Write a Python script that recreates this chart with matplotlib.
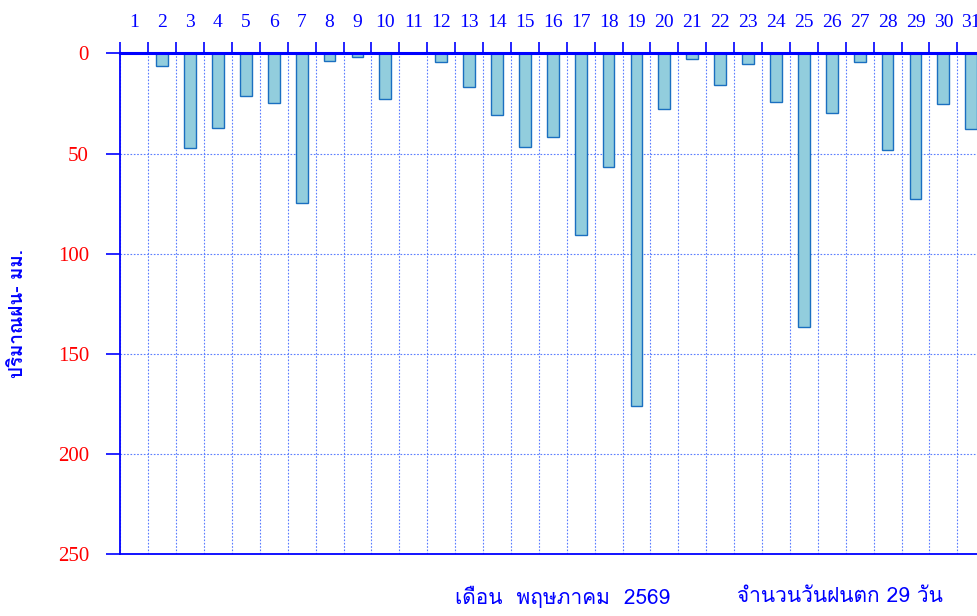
import matplotlib
matplotlib.use("Agg")
import matplotlib.pyplot as plt
from matplotlib import font_manager
from matplotlib.ft2font import FT2Font
from matplotlib.ticker import FixedLocator, NullFormatter, FixedFormatter

# ---- data ----
days = list(range(1, 32))
rain_mm = [0, 6.2, 47.3, 37.3, 21.3, 24.9, 74.5, 3.8, 1.8, 22.8,
           0, 4.2, 16.7, 30.8, 46.6, 41.6, 90.8, 56.6, 176.2, 27.6,
           2.8, 15.8, 5.2, 24.1, 136.7, 29.9, 4.5, 48.4, 72.9, 25.3, 37.8]
day_labels = [str(d) for d in days]
y_ticks = [0, 50, 100, 150, 200, 250]
ylabel_text = "ปริมาณฝน- มม."
month_text = "เดือน  พฤษภาคม  2569"
count_text = "จำนวนวันฝนตก 29 วัน"

# ---- find a font with Thai glyphs ----
thai_family = None
cands = []
for path in font_manager.findSystemFonts():
    try:
        f = FT2Font(path)
        cmap = f.get_charmap()
        if 0x0E1B in cmap and 0x0E19 in cmap:
            name = font_manager.FontProperties(fname=path).get_name()
            cands.append(name)
    except Exception:
        pass
pref = ["Norasi", "TH Sarabun New", "Garuda", "Loma", "Noto Serif Thai", "Noto Sans Thai"]
for p in pref:
    if p in cands:
        thai_family = p
        break
if thai_family is None and cands:
    thai_family = cands[0]
thai_fams = ([thai_family] if thai_family else []) + ["Liberation Serif", "DejaVu Sans"]

blue = "#0000ff"
fig = plt.figure(figsize=(9.77, 6.16), dpi=100)
W, H = 977, 616
left_px, right_px, top_px, bot_px = 120.3, 985.2, 53.3, 554.3
ax = fig.add_axes([left_px / W, 1 - bot_px / H, (right_px - left_px) / W, (bot_px - top_px) / H])

ax.bar(days, rain_mm, width=0.42, color="#92cddd", edgecolor="#1a6fc0", linewidth=1.0, zorder=3)

ax.set_xlim(0.5, 31.5)
ax.set_ylim(250, 0)

ax.xaxis.tick_top()
ax.xaxis.set_major_locator(FixedLocator([d - 0.5 for d in days] + [31.5]))
ax.xaxis.set_major_formatter(NullFormatter())
ax.xaxis.set_minor_locator(FixedLocator(days))
ax.xaxis.set_minor_formatter(FixedFormatter(day_labels))
ax.tick_params(axis="x", which="major", direction="out", length=8, width=1.2, color=blue)
ax.tick_params(axis="x", which="minor", length=0, pad=16, labelsize=14, labelcolor=blue,
               labelfontfamily="Liberation Serif")

ax.set_yticks(y_ticks)
ax.tick_params(axis="y", direction="out", length=10, width=1.2, color=blue, labelsize=15,
               labelcolor="red", pad=12.5, labelfontfamily="Liberation Serif")

ax.grid(True, which="major", axis="both", linestyle=(0, (1.5, 1.5)), color="#5a7dff", linewidth=0.8, zorder=0)

for s in ["left", "bottom", "right"]:
    ax.spines[s].set_color(blue)
    ax.spines[s].set_linewidth(1.3)
ax.spines["top"].set_color(blue)
ax.spines["top"].set_linewidth(2.2)
ax.spines["top"].set_zorder(5)

fig.text(18 / W, 1 - 314 / H, ylabel_text, rotation=90, ha="center", va="center",
         color=blue, fontsize=13.5, fontweight="bold", family=thai_fams)
fig.text(455 / W, 1 - 597 / H, month_text, ha="left", va="center", color=blue,
         fontsize=15, family=thai_fams)
fig.text(737 / W, 1 - 597 / H, count_text, ha="left", va="center", color=blue,
         fontsize=15, family=thai_fams)

fig.savefig("out.png", dpi=100)
